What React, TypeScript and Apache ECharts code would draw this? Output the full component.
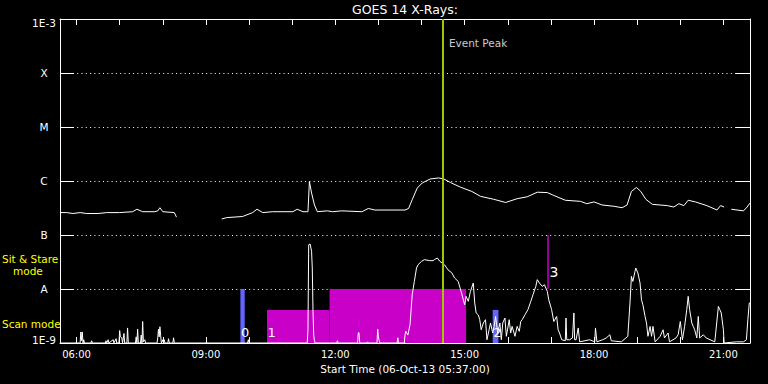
import { useEffect, useRef } from "react";
import * as echarts from "echarts";

// ---------- texts & axes ----------
const chartTitle = "GOES 14 X-Rays:";
const xAxisTitle = "Start Time (06-Oct-13 05:37:00)";
const timeStart = "05:37";
const timeEnd = "21:37";
const hourTicks = ["06:00", "07:00", "08:00", "09:00", "10:00", "11:00", "12:00", "13:00", "14:00", "15:00", "16:00", "17:00", "18:00", "19:00", "20:00", "21:00"];
const labeledTicks = ["06:00", "09:00", "12:00", "15:00", "18:00", "21:00"];
const yMin = 1e-9;
const yMax = 1e-3;
const yTickLabels = ["1E-9", "A", "B", "C", "M", "X", "1E-3"]; // from 1E-9 up to 1E-3
const modeNotes = ["Sit & Stare", "mode", "Scan mode"];

// ---------- long channel (1-8 A), null = data gap ----------
const longChannel: [string, number | null][] = [
  ["05:37", 2.6e-7], ["05:46", 2.6e-7], ["05:55", 2.5e-7], ["06:05", 2.6e-7], ["06:14", 2.5e-7],
  ["06:30", 2.5e-7], ["06:42", 2.6e-7], ["07:00", 2.6e-7], ["07:18", 2.7e-7], ["07:24", 3.0e-7],
  ["07:32", 2.7e-7], ["07:49", 2.7e-7], ["07:53", 2.8e-7], ["07:56", 3.2e-7], ["08:00", 2.7e-7],
  ["08:16", 2.6e-7], ["08:19", 2.15e-7], ["08:50", null],
  ["09:22", 1.98e-7], ["09:29", 2.1e-7], ["09:51", 2.2e-7], ["10:05", 2.6e-7], ["10:11", 3.0e-7],
  ["10:19", 2.6e-7], ["10:33", 2.7e-7], ["11:01", 2.7e-7], ["11:07", 3.0e-7], ["11:15", 2.7e-7],
  ["11:22", 2.7e-7], ["11:24", 9.8e-7], ["11:27", 6.0e-7], ["11:31", 3.6e-7], ["11:35", 2.7e-7],
  ["11:49", 2.8e-7], ["11:56", 2.7e-7], ["12:09", 2.8e-7], ["12:37", 2.7e-7], ["12:46", 3.1e-7],
  ["12:55", 2.9e-7], ["13:30", 2.9e-7], ["13:37", 2.9e-7], ["13:42", 3.1e-7], ["13:47", 4.5e-7],
  ["13:54", 7.4e-7], ["14:01", 9.2e-7], ["14:12", 1.09e-6], ["14:24", 1.14e-6], ["14:31", 1.09e-6],
  ["14:40", 9.4e-7], ["14:54", 7.7e-7], ["15:10", 6.4e-7], ["15:22", 5.2e-7], ["15:40", 4.6e-7],
  ["15:57", 4.0e-7], ["16:13", 4.7e-7], ["16:27", 5.1e-7], ["16:41", 6.2e-7], ["16:55", 6.1e-7],
  ["17:04", 5.4e-7], ["17:20", 4.4e-7], ["17:41", 4.2e-7], ["17:50", 3.8e-7], ["18:00", 4.1e-7],
  ["18:11", 3.6e-7], ["18:28", 3.4e-7], ["18:39", 3.2e-7], ["18:46", 3.6e-7], ["18:52", 6.4e-7],
  ["18:59", 7.6e-7], ["19:05", 6.4e-7], ["19:12", 4.6e-7], ["19:21", 3.7e-7], ["19:42", 3.5e-7],
  ["19:51", 3.3e-7], ["19:58", 3.8e-7], ["20:05", 3.5e-7], ["20:11", 4.4e-7], ["20:21", 4.1e-7],
  ["20:37", 3.5e-7], ["20:51", 2.9e-7], ["20:56", 3.5e-7], ["21:01", 3.3e-7], ["21:06", null],
  ["21:11", 3.0e-7], ["21:28", 2.8e-7], ["21:33", 3.3e-7], ["21:37", 3.9e-7],
];

// ---------- short channel (0.5-4 A) ----------
const shortChannel: [string, number][] = [
  ["05:37", 1.0e-9], ["06:05", 1.0e-9], ["06:06", 1.6e-9], ["06:07", 1.1e-9], ["06:08", 1.6e-9],
  ["06:09", 1.0e-9], ["06:10", 1.15e-9], ["06:11", 1.0e-9], ["06:20", 1.0e-9], ["06:21", 1.1e-9],
  ["06:22", 1.0e-9], ["06:40", 1.0e-9], ["06:41", 1.1e-9], ["06:42", 1.0e-9], ["06:44", 1.15e-9],
  ["06:45", 1.0e-9], ["06:51", 1.15e-9], ["06:52", 1.0e-9], ["06:55", 1.2e-9], ["06:56", 1.0e-9],
  ["06:59", 1.0e-9], ["07:00", 1.7e-9], ["07:01", 1.3e-9], ["07:03", 1.25e-9], ["07:04", 1.0e-9],
  ["07:06", 1.5e-9], ["07:07", 1.0e-9], ["07:10", 1.0e-9], ["07:11", 1.9e-9], ["07:12", 1.0e-9],
  ["07:22", 1.0e-9], ["07:23", 1.3e-9], ["07:24", 1.0e-9], ["07:25", 1.8e-9], ["07:26", 1.0e-9],
  ["07:29", 1.0e-9], ["07:30", 1.4e-9], ["07:31", 1.0e-9], ["07:32", 2.5e-9], ["07:33", 1.05e-9],
  ["07:35", 1.15e-9], ["07:36", 1.0e-9], ["07:52", 1.0e-9], ["07:53", 1.25e-9], ["07:54", 1.8e-9],
  ["07:55", 1.3e-9], ["07:56", 2.0e-9], ["07:57", 1.4e-9], ["07:58", 1.0e-9], ["08:00", 1.15e-9],
  ["08:01", 1.0e-9], ["08:02", 1.15e-9], ["08:03", 1.0e-9], ["08:07", 1.0e-9], ["08:08", 1.2e-9],
  ["08:09", 1.0e-9], ["08:14", 1.0e-9], ["08:15", 1.25e-9], ["08:16", 1.0e-9], ["09:58", 1.0e-9],
  ["09:59", 1.15e-9], ["10:00", 1.0e-9], ["11:21", 1.0e-9], ["11:22", 1.8e-9], ["11:23", 6.6e-8],
  ["11:25", 6.8e-8], ["11:27", 5.0e-8], ["11:28", 2.45e-8], ["11:29", 3.85e-9], ["11:30", 1.4e-9],
  ["11:31", 1.1e-9], ["11:32", 1.0e-9], ["12:02", 1.0e-9], ["12:03", 1.1e-9], ["12:04", 1.0e-9],
  ["12:31", 1.0e-9], ["12:32", 1.55e-9], ["12:33", 1.55e-9], ["12:34", 1.0e-9], ["12:44", 1.0e-9],
  ["12:45", 1.05e-9], ["12:46", 1.0e-9], ["12:58", 1.0e-9], ["12:59", 1.8e-9], ["13:00", 1.3e-9],
  ["13:01", 1.1e-9], ["13:02", 1.0e-9], ["13:26", 1.0e-9], ["13:27", 1.25e-9], ["13:28", 1.0e-9],
  ["13:36", 1.0e-9], ["13:37", 1.4e-9], ["13:38", 1.65e-9], ["13:41", 1.4e-9], ["13:44", 2.2e-9],
  ["13:47", 7.8e-9], ["13:50", 1.38e-8], ["13:53", 2.45e-8], ["13:55", 2.8e-8], ["14:00", 3.25e-8],
  ["14:04", 3.5e-8], ["14:11", 3.35e-8], ["14:16", 3.35e-8], ["14:18", 3.5e-8], ["14:22", 3.75e-8],
  ["14:25", 3.3e-8], ["14:32", 2.8e-8], ["14:35", 2.45e-8], ["14:37", 2.25e-8], ["14:42", 2.0e-8],
  ["14:46", 1.6e-8], ["14:51", 1.38e-8], ["14:55", 9.0e-9], ["15:00", 5.1e-9], ["15:02", 7.3e-9],
  ["15:05", 5.9e-9], ["15:08", 9.0e-9], ["15:12", 1.29e-8], ["15:14", 5.5e-9], ["15:16", 3.6e-9],
  ["15:19", 3.3e-9], ["15:21", 2.7e-9], ["15:23", 1.76e-9], ["15:26", 2.35e-9], ["15:29", 2.7e-9],
  ["15:31", 1.15e-9], ["15:34", 1.76e-9], ["15:36", 2.35e-9], ["15:39", 1.53e-9], ["15:41", 2.03e-9],
  ["15:43", 3.1e-9], ["15:46", 1.53e-9], ["15:49", 2.35e-9], ["15:51", 1.15e-9], ["15:53", 2.35e-9],
  ["15:56", 2.9e-9], ["15:58", 1.33e-9], ["16:02", 2.7e-9], ["16:04", 1.53e-9], ["16:06", 2.03e-9],
  ["16:10", 1.33e-9], ["16:13", 2.03e-9], ["16:16", 1.64e-9], ["16:18", 2.5e-9], ["16:20", 2.7e-9],
  ["16:24", 3.34e-9], ["16:28", 4.14e-9], ["16:32", 5.9e-9], ["16:35", 7.8e-9], ["16:39", 1.12e-8],
  ["16:41", 1.49e-8], ["16:44", 1.29e-8], ["16:48", 1.12e-8], ["16:51", 1.2e-8], ["16:55", 9.0e-9],
  ["16:57", 6.3e-9], ["17:01", 4.14e-9], ["17:04", 2.5e-9], ["17:08", 3.1e-9], ["17:10", 1.76e-9],
  ["17:12", 1.53e-9], ["17:15", 1.15e-9], ["17:20", 1.1e-9], ["17:21", 2.9e-9], ["17:22", 1.15e-9],
  ["17:26", 1.15e-9], ["17:30", 1.24e-9], ["17:32", 3.6e-9], ["17:33", 1.15e-9], ["17:35", 1.15e-9],
  ["17:38", 1.9e-9], ["17:40", 1.05e-9], ["17:54", 1.15e-9], ["18:01", 1.05e-9], ["18:02", 1.9e-9],
  ["18:04", 1.05e-9], ["18:12", 1.15e-9], ["18:17", 1.24e-9], ["18:22", 1.42e-9], ["18:24", 1.1e-9],
  ["18:38", 1.05e-9], ["18:47", 1.33e-9], ["18:50", 5.5e-9], ["18:52", 1.71e-8], ["18:54", 1.38e-8],
  ["18:57", 2.12e-8], ["18:58", 2.45e-8], ["19:01", 1.98e-8], ["19:04", 1.29e-8], ["19:06", 6.3e-9],
  ["19:08", 5.1e-9], ["19:11", 3.1e-9], ["19:13", 2.35e-9], ["19:15", 1.33e-9], ["19:18", 2.03e-9],
  ["19:20", 1.33e-9], ["19:22", 2.03e-9], ["19:25", 1.05e-9], ["19:32", 1.33e-9], ["19:36", 1.76e-9],
  ["19:38", 1.24e-9], ["19:43", 1.53e-9], ["19:45", 1.05e-9], ["19:54", 1.24e-9], ["19:57", 1.42e-9],
  ["20:00", 2.5e-9], ["20:03", 1.15e-9], ["20:06", 2.03e-9], ["20:09", 4.14e-9], ["20:11", 7.3e-9],
  ["20:13", 4.14e-9], ["20:16", 2.35e-9], ["20:18", 2.03e-9], ["20:20", 1.76e-9], ["20:23", 1.24e-9],
  ["20:25", 3.1e-9], ["20:27", 1.24e-9], ["20:32", 1.42e-9], ["20:36", 1.24e-9], ["20:48", 1.05e-9],
  ["20:53", 4.76e-9], ["20:55", 4.14e-9], ["20:57", 3.6e-9], ["21:00", 1.76e-9], ["21:01", 1.0e-9],
  ["21:18", 1.05e-9], ["21:28", 1.05e-9], ["21:32", 1.15e-9], ["21:34", 2.7e-9], ["21:36", 5.5e-9],
  ["21:37", 5.5e-9],
];

// ---------- observation blocks ----------
const blockStarts = ["09:48", "10:25", "11:52", "15:39"];
const blockEnds = ["09:54", "11:52", "15:02", "15:47"];
const blockTops = [1e-8, 4.1e-9, 1e-8, 4.1e-9];
const blockKinds = [0, 1, 1, 0];
const blockLabels = ["0", "1", "", "2"];
const blockLabelFlux = 1.55e-9;

const markerTimes = ["16:56"];
const markerLows = [1e-8];
const markerHighs = [1e-7];
const markerLabels = ["3"];
const markerLabelFlux = 2.05e-8;

const eventPeakTime = "14:29";
const eventPeakLabel = "Event Peak";
const eventPeakLabelFlux = 3.6e-4;

// ---------- styles ----------
const FONT = "DejaVu Sans";
const WHITE = "#ffffff";
const kindColors = ["#6464ff", "#c800c8"];
const markerColor = "#c800c8";
const peakColor = "#a0c800";
const noteColor = "#ffff00";

const toMin = (t: string) => {
  const [h, m] = t.split(":").map(Number);
  return h * 60 + m;
};
const fmtTime = (v: number) => {
  const h = Math.floor(v / 60);
  const m = Math.round(v - h * 60);
  return `${String(h).padStart(2, "0")}:${String(m).padStart(2, "0")}`;
};

export default function App() {
  const ref = useRef<HTMLDivElement>(null);

  useEffect(() => {
    if (!ref.current) return;
    const chart = echarts.init(ref.current, null, { renderer: "svg" });
    const xMin = toMin(timeStart);
    const xMax = toMin(timeEnd);

    const yLabelFormatter = (v: number) => {
      const e = Math.round(Math.log10(v));
      const label = yTickLabels[e + 9] ?? "";
      if (e === -3) return `{top|${label}}`;
      if (e === -9) return `{bot|${label}}`;
      return label;
    };

    const xAxisBase = {
      type: "value",
      min: xMin,
      max: xMax,
      axisLine: { show: true, onZero: false, lineStyle: { color: WHITE, width: 1 } },
      axisTick: {
        show: true,
        inside: true,
        length: 6,
        customValues: hourTicks.map(toMin),
        lineStyle: { color: WHITE, width: 1 },
      },
      splitLine: { show: false },
    };

    const yAxisBase = {
      type: "log",
      logBase: 10,
      min: yMin,
      max: yMax,
      axisLine: { show: true, lineStyle: { color: WHITE, width: 1 } },
      axisTick: { show: true, inside: true, length: 14, lineStyle: { color: WHITE, width: 1 } },
      minorTick: { show: false },
    };

    const option: any = {
      backgroundColor: "#000000",
      animation: false,
      grid: { left: 60, right: 18, top: 19, bottom: 41, containLabel: false },
      xAxis: [
        {
          ...xAxisBase,
          position: "bottom",
          axisLabel: {
            show: true,
            customValues: labeledTicks.map(toMin),
            formatter: fmtTime,
            color: WHITE,
            fontFamily: FONT,
            fontSize: 10,
            margin: 6,
          },
          name: xAxisTitle,
          nameLocation: "middle",
          nameGap: 19,
          nameTextStyle: { color: WHITE, fontFamily: FONT, fontSize: 10.5 },
        },
        { ...xAxisBase, position: "top", axisLabel: { show: false } },
      ],
      yAxis: [
        {
          ...yAxisBase,
          position: "left",
          axisLabel: {
            show: true,
            showMinLabel: true,
            showMaxLabel: true,
            formatter: yLabelFormatter,
            color: WHITE,
            fontFamily: FONT,
            fontSize: 10.5,
            align: "center",
            margin: 16,
            rich: {
              top: { color: WHITE, fontFamily: FONT, fontSize: 10.5, padding: [7, 0, 0, 0] },
              bot: { color: WHITE, fontFamily: FONT, fontSize: 10.5, padding: [0, 0, 7, 0] },
            },
          },
          splitLine: { show: true, lineStyle: { color: WHITE, width: 1, type: [1, 3.3] } },
        },
        {
          ...yAxisBase,
          position: "right",
          axisLabel: { show: false },
          splitLine: { show: false },
        },
      ],
      graphic: [
        {
          type: "text",
          x: 405,
          y: 9,
          style: { text: chartTitle, fill: WHITE, font: `12.5px ${FONT}`, align: "center", verticalAlign: "middle" },
        },
        {
          type: "text",
          x: 2,
          y: 259,
          style: { text: modeNotes[0], fill: noteColor, font: `10.5px ${FONT}`, align: "left", verticalAlign: "middle" },
        },
        {
          type: "text",
          x: 13,
          y: 271,
          style: { text: modeNotes[1], fill: noteColor, font: `10.5px ${FONT}`, align: "left", verticalAlign: "middle" },
        },
        {
          type: "text",
          x: 2,
          y: 324,
          style: { text: modeNotes[2], fill: noteColor, font: `10.5px ${FONT}`, align: "left", verticalAlign: "middle" },
        },
      ],
      series: [
        {
          type: "custom",
          name: "blocks",
          clip: true,
          encode: { x: [0, 1], y: 2 },
          data: blockStarts.map((s, i) => [toMin(s), toMin(blockEnds[i]), blockTops[i]]),
          renderItem: (params: any, api: any) => {
            const i = params.dataIndex;
            const x0 = api.value(0);
            const x1 = api.value(1);
            const top = api.value(2);
            const p0 = api.coord([x0, top]);
            const p1 = api.coord([x1, yMin]);
            const children: any[] = [
              {
                type: "rect",
                shape: { x: p0[0], y: p0[1], width: p1[0] - p0[0], height: p1[1] - p0[1] },
                style: { fill: kindColors[blockKinds[i]] },
              },
            ];
            if (blockLabels[i]) {
              const pl = api.coord([x0, blockLabelFlux]);
              children.push({
                type: "text",
                x: p0[0] + 0.5,
                y: pl[1],
                z2: 10,
                style: { text: blockLabels[i], fill: WHITE, font: `13px ${FONT}`, align: "left", verticalAlign: "middle" },
              });
            }
            return { type: "group", children };
          },
        },
        {
          type: "custom",
          name: "markers",
          clip: true,
          encode: { x: 0, y: [1, 2] },
          data: markerTimes.map((t, i) => [toMin(t), markerLows[i], markerHighs[i]]),
          renderItem: (params: any, api: any) => {
            const i = params.dataIndex;
            const t = api.value(0);
            const a = api.coord([t, api.value(1)]);
            const b = api.coord([t, api.value(2)]);
            const pl = api.coord([t, markerLabelFlux]);
            return {
              type: "group",
              children: [
                {
                  type: "line",
                  shape: { x1: a[0], y1: a[1], x2: b[0], y2: b[1] },
                  style: { stroke: markerColor, lineWidth: 1.5 },
                },
                {
                  type: "text",
                  x: a[0] + 1.5,
                  y: pl[1],
                  style: { text: markerLabels[i], fill: WHITE, font: `14px ${FONT}`, align: "left", verticalAlign: "middle" },
                },
              ],
            };
          },
        },
        {
          type: "line",
          name: "long",
          symbol: "none",
          clip: true,
          connectNulls: false,
          lineStyle: { color: WHITE, width: 1 },
          data: longChannel.map(([t, v]) => [toMin(t), v === null ? "-" : v]),
        },
        {
          type: "line",
          name: "short",
          symbol: "none",
          clip: true,
          lineStyle: { color: WHITE, width: 1 },
          data: shortChannel.map(([t, v]) => [toMin(t), v]),
        },
        {
          type: "scatter",
          name: "peak",
          symbolSize: 1,
          itemStyle: { color: "transparent" },
          data: [[toMin(eventPeakTime), eventPeakLabelFlux]],
          label: {
            show: true,
            position: "right",
            distance: 6,
            formatter: eventPeakLabel,
            color: WHITE,
            fontFamily: FONT,
            fontSize: 10.5,
          },
          markLine: {
            silent: true,
            symbol: ["none", "none"],
            label: { show: false },
            lineStyle: { color: peakColor, width: 2, type: "solid" },
            data: [{ xAxis: toMin(eventPeakTime) }],
          },
        },
      ],
    };

    chart.setOption(option);
    return () => chart.dispose();
  }, []);

  return (
    <div
      ref={ref}
      style={{ position: "absolute", left: 0, top: 0, width: 768, height: 384, background: "#000" }}
    />
  );
}
